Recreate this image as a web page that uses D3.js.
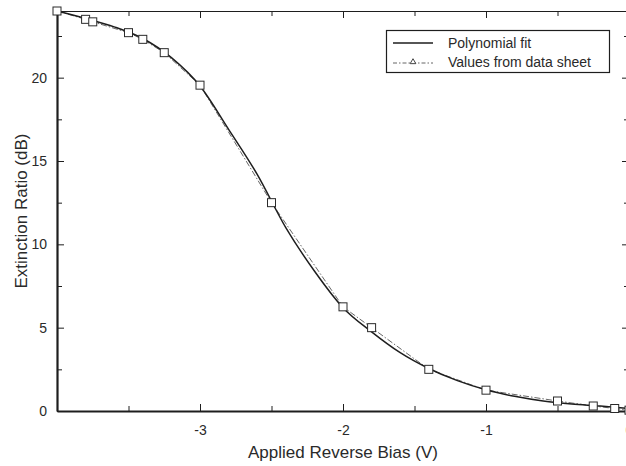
<!DOCTYPE html>
<html>
<head>
<meta charset="utf-8">
<script src="https://cdn.jsdelivr.net/npm/d3@7"></script>
<style>
  html, body { margin: 0; padding: 0; background: #fff; overflow: hidden; }
  svg { display: block; overflow: hidden; }
  text { font-family: "Liberation Sans", Arial, sans-serif; fill: #2a2a2a; }
</style>
</head>
<body>
<svg id="chart" width="626" height="466"></svg>
<script>
// Measured extinction ratio from the modulator data sheet
const sheetBias = [-4, -3.8, -3.75, -3.5, -3.4, -3.25, -3, -2.5, -2, -1.8, -1.4, -1, -0.5, -0.25, -0.1, 0];
const sheetER   = [24.0, 23.5, 23.35, 22.7, 22.3, 21.5, 19.55, 12.5, 6.25, 5.0, 2.5, 1.25, 0.6, 0.3, 0.15, 0.05];

// Polynomial fit sampled along the bias range
const fitBias = [-4, -3.8, -3.6, -3.4, -3.2, -3.0, -2.8, -2.6, -2.4, -2.2, -2.0, -1.8, -1.6, -1.4, -1.2, -1.0, -0.8, -0.6, -0.4, -0.2, 0];
const fitER   = [24.0, 23.55, 23.05, 22.35, 21.2, 19.5, 16.9, 14.2, 11.0, 8.4, 6.2, 4.75, 3.5, 2.55, 1.82, 1.27, 0.88, 0.6, 0.42, 0.3, 0.15];

const xTicks = [-4, -3.5, -3, -2.5, -2, -1.5, -1, -0.5, 0];
const xLabels = [-3, -2, -1, 0];
const yTicks = [0, 2.5, 5, 7.5, 10, 12.5, 15, 17.5, 20, 22.5];
const yLabels = [0, 5, 10, 15, 20];

const legendItems = ["Polynomial fit", "Values from data sheet"];

const svg = d3.select("#chart");
const plotL = 57, plotR = 629, plotT = 11, plotB = 411;

const x = d3.scaleLinear().domain([-4, 0]).range([plotL, plotR]);
const y = d3.scaleLinear().domain([0, 24]).range([plotB, plotT]);

const ink = "#1e1e1e";

function styleAxis(g, width) {
  g.select(".domain").attr("stroke", ink).attr("stroke-width", width);
  g.selectAll(".tick line").attr("stroke", ink).attr("stroke-width", 1);
  g.selectAll(".tick text").attr("fill", "#2a2a2a").style("font-size", "14px")
    .style("font-family", "'Liberation Sans', Arial, sans-serif");
}

// Bottom axis: ticks point inward, labels on whole volts
const gx = svg.append("g").attr("transform", `translate(0,${plotB})`)
  .call(d3.axisBottom(x).tickValues(xTicks).tickSizeInner(-6).tickSizeOuter(0).tickPadding(14)
    .tickFormat(d => xLabels.includes(d) ? String(d) : ""));
styleAxis(gx, 2);
gx.selectAll(".tick line").attr("y2", d => Number.isInteger(d) ? -7 : -5);

// Top axis
const gt = svg.append("g").attr("transform", `translate(0,${plotT})`)
  .call(d3.axisTop(x).tickValues(xTicks).tickSizeInner(-6).tickSizeOuter(0).tickFormat(""));
styleAxis(gt, 1.2);
gt.selectAll(".tick line").attr("y2", d => Number.isInteger(d) ? 7 : 5);

// Left axis
const gy = svg.append("g").attr("transform", `translate(${plotL},0)`)
  .call(d3.axisLeft(y).tickValues(yTicks).tickSizeInner(-6).tickSizeOuter(0).tickPadding(10)
    .tickFormat(d => yLabels.includes(d) ? String(d) : ""));
styleAxis(gy, 2.2);
gy.selectAll(".tick line").attr("x2", d => d % 5 === 0 ? 7 : 5);

// Right axis
const gr = svg.append("g").attr("transform", `translate(${plotR},0)`)
  .call(d3.axisRight(y).tickValues(yTicks).tickSizeInner(-6).tickSizeOuter(0).tickFormat(""));
styleAxis(gr, 1.2);
gr.selectAll(".tick line").attr("x2", d => d % 5 === 0 ? -7 : -5);

// Data-sheet values: dash-dot polyline with square markers
const sheet = sheetBias.map((b, i) => [b, sheetER[i]]);
svg.append("path")
  .datum(sheet)
  .attr("fill", "none")
  .attr("stroke", "#555")
  .attr("stroke-width", 0.9)
  .attr("stroke-dasharray", "6,2,1.5,2")
  .attr("d", d3.line().x(d => x(d[0])).y(d => y(d[1])));

// Polynomial fit
const fit = fitBias.map((b, i) => [b, fitER[i]]);
svg.append("path")
  .datum(fit)
  .attr("fill", "none")
  .attr("stroke", ink)
  .attr("stroke-width", 1.5)
  .attr("d", d3.line().curve(d3.curveMonotoneX).x(d => x(d[0])).y(d => y(d[1])));

const sq = 8;
svg.append("g").selectAll("rect")
  .data(sheet)
  .join("rect")
  .attr("x", d => x(d[0]) - sq / 2)
  .attr("y", d => y(d[1]) - sq / 2)
  .attr("width", sq)
  .attr("height", sq)
  .attr("fill", "#fff")
  .attr("stroke", "#2a2a2a")
  .attr("stroke-width", 1);

// Axis titles
svg.append("text")
  .attr("x", (plotL + plotR) / 2)
  .attr("y", 458)
  .attr("text-anchor", "middle")
  .style("font-size", "17px")
  .text("Applied Reverse Bias (V)");

svg.append("text")
  .attr("transform", `translate(27,${(plotT + plotB) / 2}) rotate(-90)`)
  .attr("text-anchor", "middle")
  .style("font-size", "17px")
  .text("Extinction Ratio (dB)");

// Legend
const lg = svg.append("g");
lg.append("rect")
  .attr("x", 386.5).attr("y", 30.5)
  .attr("width", 223).attr("height", 42)
  .attr("fill", "#fff").attr("stroke", ink).attr("stroke-width", 1.2);

lg.append("line")
  .attr("x1", 393).attr("x2", 433).attr("y1", 43).attr("y2", 43)
  .attr("stroke", ink).attr("stroke-width", 1.3);
lg.append("line")
  .attr("x1", 393).attr("x2", 433).attr("y1", 63).attr("y2", 63)
  .attr("stroke", "#555").attr("stroke-width", 0.9)
  .attr("stroke-dasharray", "4,2,1.5,2");
lg.append("path")
  .attr("d", d3.symbol(d3.symbolTriangle, 14)())
  .attr("transform", "translate(413,62)")
  .attr("fill", "#fff").attr("stroke", "#333").attr("stroke-width", 0.9);

lg.selectAll("text.item")
  .data(legendItems)
  .join("text")
  .attr("class", "item")
  .attr("x", 448)
  .attr("y", (d, i) => 48 + i * 19)
  .style("font-size", "14px")
  .text(d => d);
</script>
</body>
</html>
